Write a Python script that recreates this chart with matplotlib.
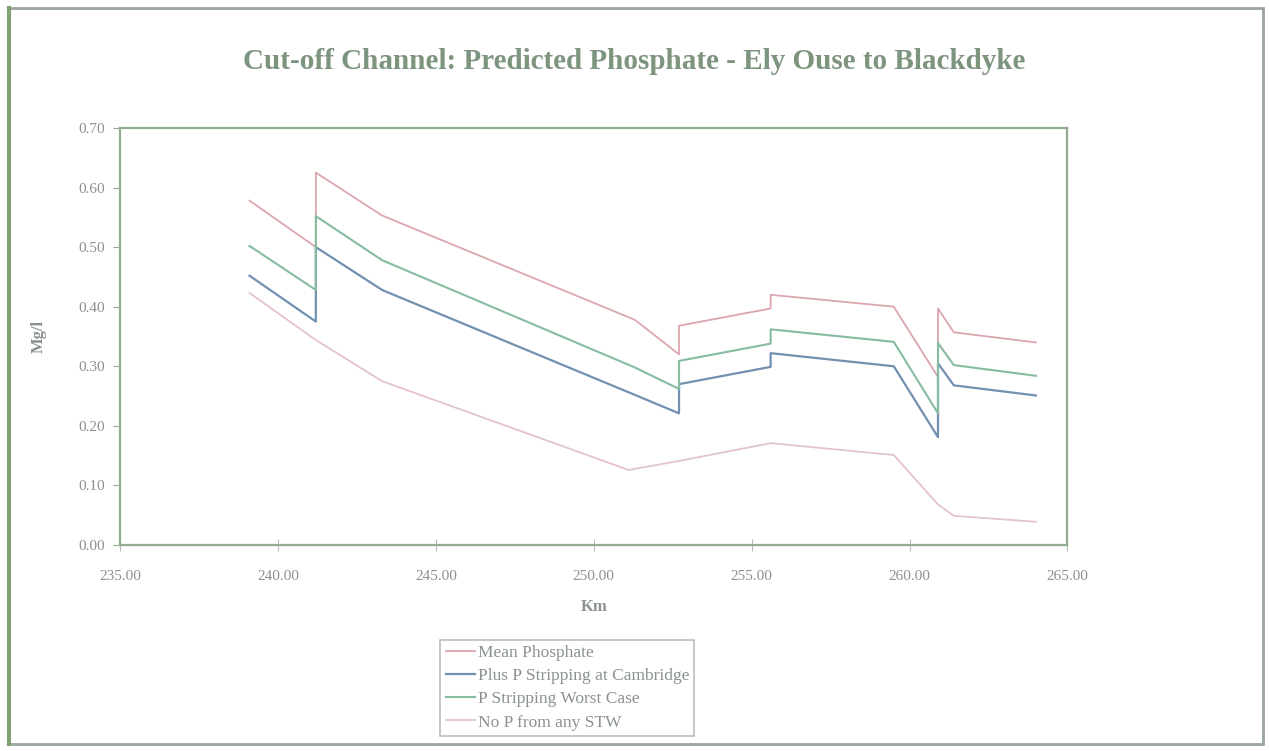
import matplotlib
matplotlib.use("Agg")
import matplotlib.pyplot as plt
from matplotlib.patches import Rectangle

# Chainage along the channel (km); repeated values mark step changes at inflows
km = [239.1, 241.2, 241.2, 243.3, 251.3, 252.7, 252.7, 255.6, 255.6,
      259.5, 260.9, 260.9, 261.4, 264.0]

mean_phosphate = [0.578, 0.500, 0.625, 0.553, 0.378, 0.320, 0.368, 0.397, 0.420,
                  0.400, 0.282, 0.397, 0.357, 0.340]
p_strip_cambridge = [0.452, 0.375, 0.500, 0.428, 0.252, 0.221, 0.270, 0.299, 0.322,
                     0.300, 0.181, 0.305, 0.268, 0.251]
p_strip_worst = [0.502, 0.428, 0.552, 0.478, 0.298, 0.262, 0.309, 0.338, 0.362,
                 0.341, 0.221, 0.339, 0.302, 0.284]

km_no_p = [239.1, 241.2, 243.3, 251.1, 252.7, 255.6, 259.5, 260.9, 261.4, 264.0]
no_p_stw = [0.423, 0.344, 0.275, 0.126, 0.141, 0.171, 0.151, 0.068, 0.049, 0.039]

series_names = ["Mean Phosphate", "Plus P Stripping at Cambridge",
                "P Stripping Worst Case", "No P from any STW"]

x_ticks = [235, 240, 245, 250, 255, 260, 265]
y_ticks = [0.0, 0.1, 0.2, 0.3, 0.4, 0.5, 0.6, 0.7]

serif = ["Liberation Serif", "DejaVu Serif"]
frame_col = "#93ab91"
text_col = "#8a928c"

fig = plt.figure(figsize=(12.69, 7.51), dpi=100)
fig.patch.set_facecolor("white")

# outer chart border
fig.add_artist(Rectangle((0.007, 0.009), 0.988, 0.980, transform=fig.transFigure,
                         fill=False, edgecolor="#9aa59c", linewidth=2.0))
fig.add_artist(plt.Line2D([0.007, 0.007], [0.009, 0.989], transform=fig.transFigure,
                          color="#7fa174", linewidth=3.0))

ax = fig.add_axes([0.0946, 0.2743, 0.7466, 0.5553])

ax.plot(km, mean_phosphate, color="#dba6ad", lw=1.3, label=series_names[0])
ax.plot(km, p_strip_cambridge, color="#7290b0", lw=1.6, label=series_names[1])
ax.plot(km, p_strip_worst, color="#86bca0", lw=1.5, label=series_names[2])
ax.plot(km_no_p, no_p_stw, color="#e3c3cf", lw=1.3, label=series_names[3])

ax.set_xlim(235, 265)
ax.set_ylim(0, 0.7)
ax.set_xticks(x_ticks)
ax.set_xticklabels([f"{v:.2f}" for v in x_ticks])
ax.set_yticks(y_ticks)
ax.set_yticklabels([f"{v:.2f}" for v in y_ticks])

for s in ax.spines.values():
    s.set_color(frame_col)
    s.set_linewidth(1.6)

ax.tick_params(axis="y", direction="out", length=5, color=frame_col, pad=6,
               labelsize=11, labelcolor=text_col)
ax.tick_params(axis="x", direction="inout", length=8, color="#b5bdb6", pad=14,
               labelsize=11, labelcolor=text_col)
for lab in ax.get_xticklabels() + ax.get_yticklabels():
    lab.set_family(serif)

ax.set_xlabel("Km", fontsize=12, fontweight="bold", color=text_col, family=serif)
ax.set_ylabel("Mg/l", fontsize=12, fontweight="bold", color=text_col, family=serif)
ax.xaxis.set_label_coords(0.5, -0.13)
ax.yaxis.set_label_coords(-0.077, 0.5)

fig.text(0.5, 0.918, "Cut-off Channel: Predicted Phosphate - Ely Ouse to Blackdyke",
         ha="center", va="center", fontsize=21, fontweight="bold",
         color="#7d947f", family=serif)

leg = fig.legend(loc="upper left", bbox_to_anchor=(0.347, 0.148),
                 bbox_transform=fig.transFigure, frameon=True, fancybox=False,
                 prop={"family": serif, "size": 12.5}, handlelength=1.7,
                 handletextpad=0.15, borderpad=0.3, labelspacing=0.4,
                 borderaxespad=0)
leg.get_frame().set_edgecolor("#a9b0aa")
leg.get_frame().set_linewidth(1.2)
for t in leg.get_texts():
    t.set_color(text_col)

fig.savefig("out.png", dpi=100, facecolor="white")
